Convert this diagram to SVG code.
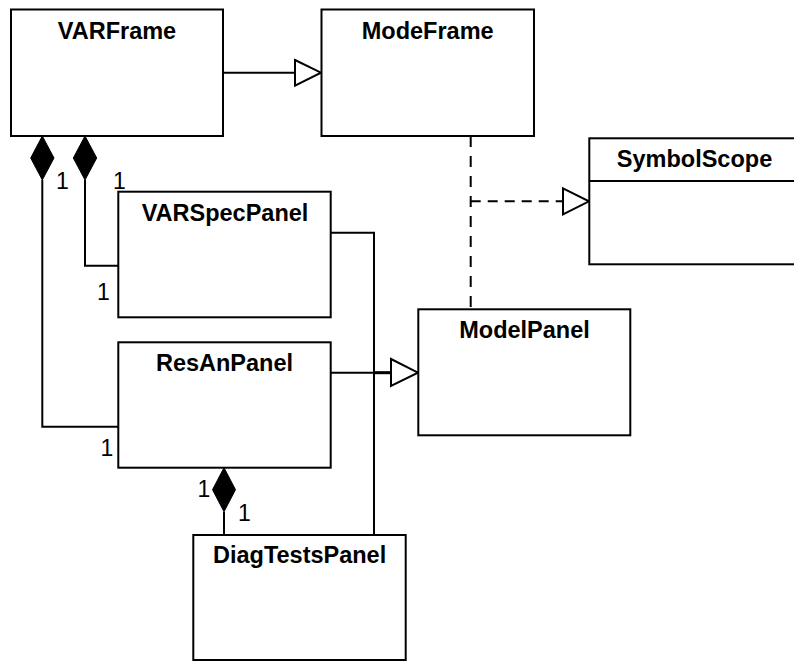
<svg xmlns="http://www.w3.org/2000/svg" width="794" height="662" viewBox="0 0 794 662">
<defs>
<style>
.box{fill:#fff;stroke:#000;stroke-width:2}
.t{font-family:"Liberation Sans",Arial,sans-serif;font-weight:bold;font-size:23.5px;text-anchor:middle;fill:#000}
.m{font-family:"Liberation Sans",Arial,sans-serif;font-size:23px;text-anchor:middle;fill:#000}
.ln{fill:none;stroke:#000;stroke-width:2}
.dash{fill:none;stroke:#000;stroke-width:2;stroke-dasharray:10 7}
.tri{fill:#fff;stroke:#000;stroke-width:2}
.dia{fill:#000;stroke:#000;stroke-width:1}
</style>
</defs>
<rect width="794" height="662" fill="#fff"/>
<g id="connectors">
<line class="ln" x1="223" y1="72.7" x2="295" y2="72.7"/>
<polygon class="tri" points="295,60 321,72.7 295,85.7"/>
<line class="dash" x1="470.7" y1="136" x2="470.7" y2="309" style="stroke-dasharray:11 9"/>
<line class="dash" x1="470.7" y1="201.3" x2="563" y2="201.3"/>
<polygon class="tri" points="563,188.3 589,201.3 563,214.3"/>
<polygon class="dia" points="42.3,136 54,158 42.3,180 30.7,158"/>
<polyline class="ln" points="42.3,180 42.3,426.7 118,426.7"/>
<polygon class="dia" points="85,136 96.7,158 85,180 73.3,158"/>
<polyline class="ln" points="85,180 85,265.7 118,265.7"/>
<polyline class="ln" points="331,232.7 374,232.7 374,535"/>
<line class="ln" x1="331" y1="372.7" x2="391" y2="372.7"/>
<line class="ln" x1="374" y1="372.7" x2="391" y2="372.7" style="stroke-width:3"/>
<polygon class="tri" points="391,359 418,372.7 391,386"/>
<polygon class="dia" points="224,467.7 235.5,489.7 224,511.7 212.5,489.7"/>
<line class="ln" x1="224" y1="511.7" x2="224" y2="535"/>
<text class="m" x="62.5" y="188.5">1</text>
<text class="m" x="119.5" y="188.5">1</text>
<text class="m" x="103.5" y="299.5">1</text>
<text class="m" x="107" y="455.5">1</text>
<text class="m" x="204" y="497">1</text>
<text class="m" x="244.5" y="520.5">1</text>
</g>
<g id="VARFrame">
<rect class="box" x="11" y="9.5" width="212" height="126.5"/>
<text class="t" x="117" y="39">VARFrame</text>
</g>
<g id="ModeFrame">
<rect class="box" x="321.5" y="9.5" width="212.5" height="126.5"/>
<text class="t" x="427.7" y="39.3">ModeFrame</text>
</g>
<g id="SymbolScope">
<rect class="box" x="589.3" y="138.3" width="212" height="126"/>
<line class="ln" x1="589.3" y1="181" x2="802" y2="181"/>
<text class="t" x="694.5" y="166.7">SymbolScope</text>
</g>
<g id="VARSpecPanel">
<rect class="box" x="118.3" y="191.7" width="212.4" height="125.6"/>
<text class="t" x="225" y="220.7">VARSpecPanel</text>
</g>
<g id="ResAnPanel">
<rect class="box" x="118.3" y="342.3" width="212.4" height="125.4"/>
<text class="t" x="224.5" y="370.7">ResAnPanel</text>
</g>
<g id="ModelPanel">
<rect class="box" x="418.3" y="309.3" width="212" height="126"/>
<text class="t" x="524.5" y="338.3">ModelPanel</text>
</g>
<g id="DiagTestsPanel">
<rect class="box" x="193.3" y="535" width="212.4" height="125"/>
<text class="t" x="299.6" y="562.7">DiagTestsPanel</text>
</g>
</svg>
